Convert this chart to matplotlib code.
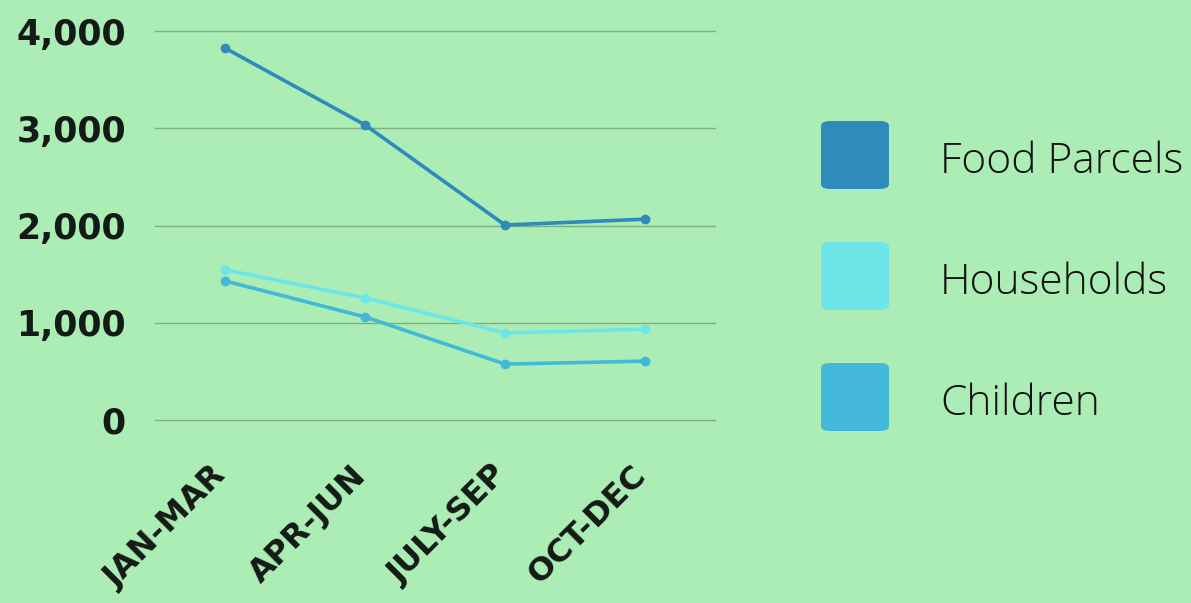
import matplotlib.pyplot as plt
from matplotlib.patches import FancyBboxPatch
from matplotlib.transforms import ScaledTranslation

quarters = ['JAN-MAR', 'APR-JUN', 'JULY-SEP', 'OCT-DEC']
food_parcels = [3825, 3035, 2005, 2065]
households = [1545, 1255, 895, 935]
children = [1430, 1060, 575, 605]

series = ['Food Parcels', 'Households', 'Children']
colors = ['#2e8bbb', '#6ee6e8', '#43b8d8']
bg = '#abedb5'

fig = plt.figure(figsize=(11.91, 6.03), dpi=100, facecolor=bg)
ax = fig.add_axes([155/1191, 1 - 420/603, 560/1191, 389/603], facecolor=bg)

x = [i + 0.5 for i in range(len(quarters))]
for vals, c in zip([food_parcels, households, children], colors):
    ax.plot(x, vals, color=c, lw=2.6, marker='o', ms=6, zorder=3)

ax.set_xlim(0, 4)
ax.set_ylim(0, 4000)
ax.set_yticks([0, 1000, 2000, 3000, 4000])
ax.set_yticklabels(['0', '1,000', '2,000', '3,000', '4,000'])
ax.grid(axis='y', color='#7eae86', lw=1)
for gl in ax.get_ygridlines():
    gl.set_clip_on(False)
ax.set_axisbelow(True)
for s in ax.spines.values():
    s.set_visible(False)
ax.tick_params(axis='y', length=0, pad=21)
ax.tick_params(axis='x', length=0, pad=0)
for lab in ax.get_yticklabels():
    lab.set_fontfamily('DejaVu Sans')
    lab.set_fontweight('bold')
    lab.set_fontsize(25)
    lab.set_color('#141a15')

ax.set_xticks(x)
ax.set_xticklabels(quarters, rotation=45, ha='right', va='top',
                   rotation_mode='anchor', fontfamily='DejaVu Sans',
                   fontweight='bold', fontsize=23, color='#141a15')
shift = ScaledTranslation(-14/100, -40/100, fig.dpi_scale_trans)
for lab in ax.get_xticklabels():
    lab.set_transform(lab.get_transform() + shift)

# legend
W, H = 1191, 603
for i, (name, c) in enumerate(zip(series, colors)):
    cy = 155 + i * 121
    box = FancyBboxPatch((821 / W, 1 - (cy + 34) / H), 68 / W, 68 / H,
                         boxstyle='round,pad=0,rounding_size=0.008',
                         transform=fig.transFigure, facecolor=c,
                         edgecolor='none')
    fig.patches.append(box)
    fig.text(940 / W, 1 - (cy + 7) / H, name, fontfamily='Open Sans',
             fontweight='light', fontsize=30.6, color='#111111', va='center')

fig.savefig('out.png', dpi=100, facecolor=bg)
